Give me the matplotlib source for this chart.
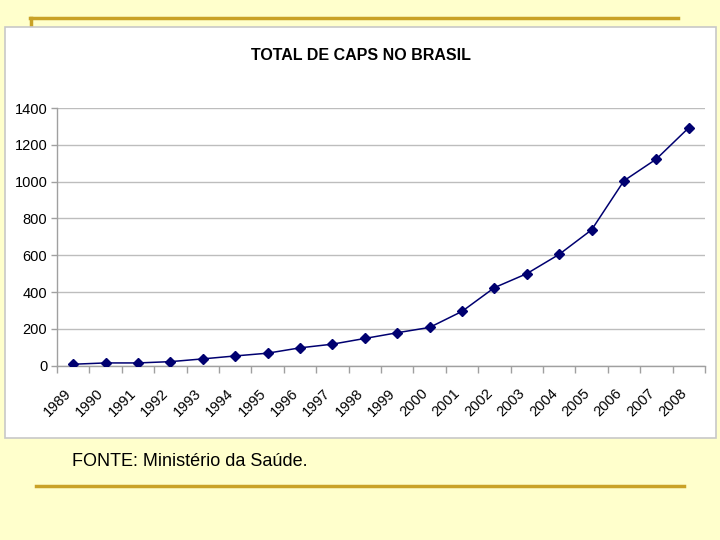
import matplotlib
matplotlib.use("Agg")
import matplotlib.pyplot as plt
from matplotlib.patches import Rectangle
from matplotlib.lines import Line2D
from matplotlib.transforms import ScaledTranslation
import numpy as np

years = ["1989", "1990", "1991", "1992", "1993", "1994", "1995", "1996", "1997", "1998",
         "1999", "2000", "2001", "2002", "2003", "2004", "2005", "2006", "2007", "2008"]
caps = [8, 15, 15, 22, 37, 53, 68, 97, 117, 148,
        179, 208, 295, 424, 500, 605, 738, 1005, 1123, 1293]
yticks = [0, 200, 400, 600, 800, 1000, 1200, 1400]

W, H = 720, 540
fig = plt.figure(figsize=(7.2, 5.4), dpi=100)
fig.patch.set_facecolor("#FFFFCC")

narrow = ["Liberation Sans Narrow", "Liberation Sans", "DejaVu Sans"]

def fx(px): return px / W
def fy(py): return 1 - py / H

gold = "#C9A227"
# top gold line with short vertical
fig.add_artist(Line2D([fx(30), fx(678)], [fy(18), fy(18)], color=gold, lw=2.5, zorder=-2))
fig.add_artist(Line2D([fx(31), fx(31)], [fy(18), fy(28)], color=gold, lw=2.5, zorder=-2))
# bottom gold line
fig.add_artist(Line2D([fx(36), fx(684)], [fy(486), fy(486)], color=gold, lw=2.5, zorder=-2))

# white chart box
fig.add_artist(Rectangle((fx(5), fy(438)), fx(711), 411 / H, facecolor="white",
                         edgecolor="#C8C8C8", lw=1.2, zorder=-1))

ax = fig.add_axes([fx(57), fy(365.7), fx(705 - 57), (365.7 - 108) / H])
ax.set_facecolor("none")
x = np.arange(len(years))
ax.plot(x, caps, color="#000070", lw=1.1, marker="D", markersize=5,
        markerfacecolor="#000070", markeredgecolor="#000070", zorder=3)

ax.set_xlim(-0.5, len(years) - 0.5)
ax.set_ylim(0, 1400)
ax.set_yticks(yticks)
ax.set_yticklabels([str(v) for v in yticks], fontfamily=narrow, fontsize=10.5)
ax.yaxis.grid(True, color="#BDBDBD", lw=1)
ax.set_axisbelow(True)

ax.set_xticks(x)
ax.set_xticklabels([""] * len(years))
lbl_tr = ax.get_xaxis_transform() + ScaledTranslation(-4 / 100, -25 / 100, fig.dpi_scale_trans)
for xi, yr in zip(x, years):
    ax.text(xi, 0, yr, transform=lbl_tr, rotation=45, ha="right", va="center",
            rotation_mode="anchor", fontfamily=narrow, fontsize=10.5, clip_on=False)
ax.set_xticks(np.arange(-0.5, len(years)), minor=True)
ax.tick_params(axis="x", which="major", length=0)
ax.tick_params(axis="x", which="minor", length=5, color="#A0A0A0", width=1)
ax.tick_params(axis="y", length=4, color="#A0A0A0", width=1, pad=3)

for s in ["top", "right"]:
    ax.spines[s].set_visible(False)
for s in ["left", "bottom"]:
    ax.spines[s].set_color("#A0A0A0")
    ax.spines[s].set_linewidth(1)

fig.text(fx(361), fy(55), "TOTAL DE CAPS NO BRASIL", ha="center", va="center",
         fontfamily=narrow, fontweight="bold", fontsize=11.5)
fig.text(fx(72), fy(462), "FONTE: Ministério da Saúde.", ha="left", va="center",
         fontfamily=["Liberation Sans", "DejaVu Sans"], fontsize=13)

fig.savefig("out.png", dpi=100, facecolor=fig.get_facecolor())
